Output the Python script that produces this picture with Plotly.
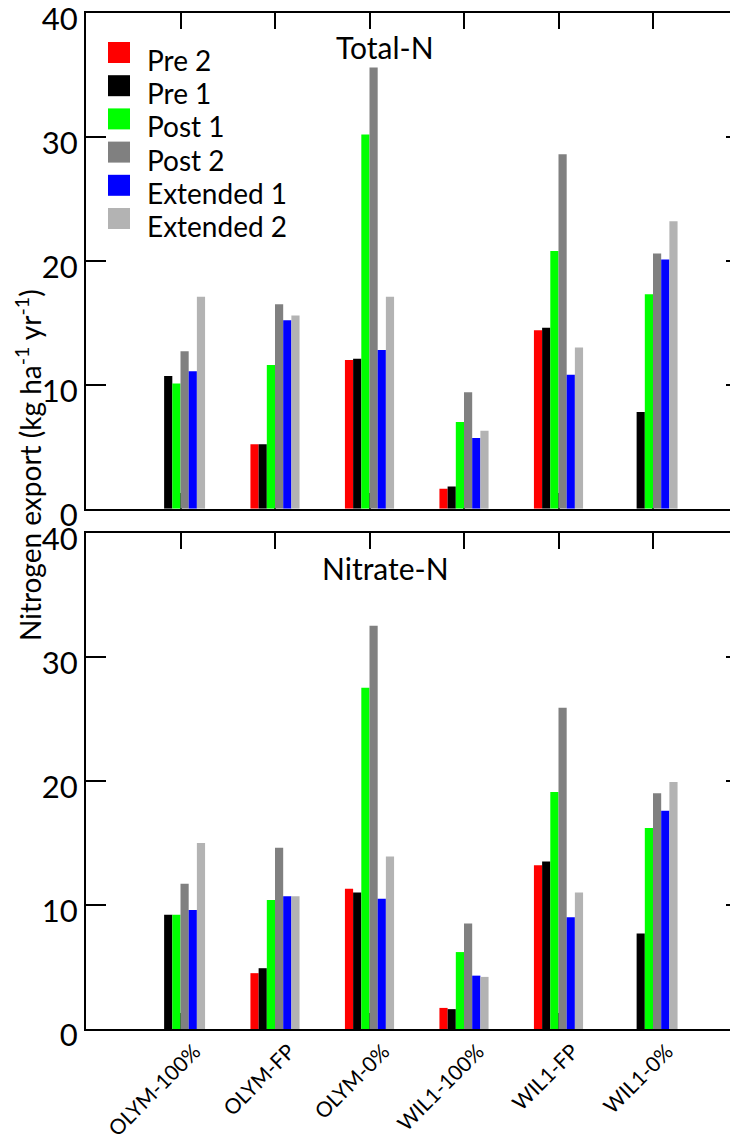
import plotly.graph_objects as go

categories = ["OLYM-100%", "OLYM-FP", "OLYM-0%", "WIL1-100%", "WIL1-FP", "WIL1-0%"]
series_names = ["Pre 2", "Pre 1", "Post 1", "Post 2", "Extended 1", "Extended 2"]
series_colors = ["#FF0000", "#000000", "#00FF00", "#808080", "#0000FF", "#B3B3B3"]

# Total-N (kg ha-1 yr-1)
total_pre2 = [None, 5.2, 12.0, 1.6, 14.4, None]
total_pre1 = [10.7, 5.2, 12.1, 1.8, 14.6, 7.8]
total_post1 = [10.1, 11.6, 30.2, 7.0, 20.8, 17.3]
total_post2 = [12.7, 16.5, 35.6, 9.4, 28.6, 20.6]
total_ext1 = [11.1, 15.2, 12.8, 5.7, 10.8, 20.1]
total_ext2 = [17.1, 15.6, 17.1, 6.3, 13.0, 23.2]

# Nitrate-N (kg ha-1 yr-1)
nitrate_pre2 = [None, 4.5, 11.3, 1.7, 13.2, None]
nitrate_pre1 = [9.2, 4.9, 11.0, 1.6, 13.5, 7.7]
nitrate_post1 = [9.2, 10.4, 27.5, 6.2, 19.1, 16.2]
nitrate_post2 = [11.7, 14.6, 32.5, 8.5, 25.9, 19.0]
nitrate_ext1 = [9.6, 10.7, 10.5, 4.3, 9.0, 17.6]
nitrate_ext2 = [15.0, 10.7, 13.9, 4.2, 11.0, 19.9]

total_series = [total_pre2, total_pre1, total_post1, total_post2, total_ext1, total_ext2]
nitrate_series = [nitrate_pre2, nitrate_pre1, nitrate_post1, nitrate_post2, nitrate_ext1, nitrate_ext2]

y_ticks = [0, 10, 20, 30, 40]
panel_titles = ["Total-N", "Nitrate-N"]
y_title = "Nitrogen export (kg ha<sup>-1</sup> yr<sup>-1</sup>)"

FONT = "Lato, sans-serif"
OFF = 8  # page body margin offset
W, H = 738 - OFF, 1143 - OFF
ML, MT = 86 - OFF, 13 - OFF
PLOT_BOTTOM = 1029 - OFF
MB = H - PLOT_BOTTOM
PW = W - ML
PH = H - MT - MB

def px_x(px):
    # px in page pixels
    return (px - OFF - ML) / PW

def px_y(py):
    return (PLOT_BOTTOM - (py - OFF)) / PH

fig = go.Figure()

for vals, name, col in zip(total_series, series_names, series_colors):
    fig.add_trace(go.Bar(x=categories, y=vals, name=name, marker=dict(color=col, line=dict(width=0)),
                         xaxis="x", yaxis="y", showlegend=False))
for vals, name, col in zip(nitrate_series, series_names, series_colors):
    fig.add_trace(go.Bar(x=categories, y=vals, name=name, marker=dict(color=col, line=dict(width=0)),
                         xaxis="x2", yaxis="y2", showlegend=False))
# helper traces for the right-side tick axes
fig.add_trace(go.Scatter(x=[categories[0]], y=[None], xaxis="x", yaxis="y3", showlegend=False, hoverinfo="skip"))
fig.add_trace(go.Scatter(x=[categories[0]], y=[None], xaxis="x2", yaxis="y4", showlegend=False, hoverinfo="skip"))

top_dom = [px_y(508.7), 1.0]
bot_dom = [0.0, px_y(532.7)]
xrange = [-1, -1 + PW / 94.5]

xcommon = dict(type="category", range=xrange, showline=True, linecolor="black", linewidth=2,
               mirror="ticks", ticks="inside", ticklen=16, tickwidth=2, tickcolor="black",
               layer="below traces", showgrid=False, zeroline=False, automargin=False,
               ticklabeloverflow="allow",
               tickfont=dict(family=FONT, size=21, color="black"))
ycommon = dict(range=[0, 40], tickvals=y_ticks, showline=True, linecolor="black", linewidth=2,
               ticks="inside", ticklen=20, tickwidth=2, tickcolor="black", showgrid=False,
               zeroline=False, layer="above traces", automargin=False,
               ticklabeloverflow="allow", ticklabelshift=6,
               tickfont=dict(family=FONT, size=31, color="black"))
yright = dict(range=[0, 40], tickvals=y_ticks, side="right", showline=False, ticks="inside",
              ticklen=12, tickwidth=2, tickcolor="black", showgrid=False, zeroline=False,
              showticklabels=False, automargin=False)

fig.update_layout(
    template="none",
    width=W, height=H,
    margin=dict(l=ML, r=0, t=MT, b=MB, autoexpand=False),
    paper_bgcolor="white", plot_bgcolor="white",
    barmode="group", bargap=0.48, bargroupgap=0,
    xaxis=dict(**xcommon, domain=[0, 1], anchor="y", showticklabels=False),
    xaxis2=dict(**xcommon, domain=[0, 1], anchor="y2", tickangle=-45,
                ticklabelshift=14, ticklabelstandoff=0),
    yaxis=dict(**ycommon, domain=top_dom, anchor="x"),
    yaxis2=dict(**ycommon, domain=bot_dom, anchor="x2"),
    yaxis3=dict(**yright, overlaying="y", anchor="x"),
    yaxis4=dict(**yright, overlaying="y2", anchor="x2"),
    showlegend=False,
    font=dict(family=FONT, color="black"),
)

annotations = []
# panel titles
annotations.append(dict(text=panel_titles[0], x=px_x(385), y=px_y(47), xref="paper", yref="paper",
                        showarrow=False, font=dict(family=FONT, size=30, color="black"),
                        xanchor="center", yanchor="middle"))
annotations.append(dict(text=panel_titles[1], x=px_x(385), y=px_y(568), xref="paper", yref="paper",
                        showarrow=False, font=dict(family=FONT, size=30, color="black"),
                        xanchor="center", yanchor="middle"))
# y axis title
annotations.append(dict(text=y_title, x=px_x(28), y=px_y(465), xref="paper", yref="paper",
                        showarrow=False, textangle=-90, font=dict(family=FONT, size=28, color="black"),
                        xanchor="center", yanchor="middle"))

# manual legend
shapes = []
for i, (name, col) in enumerate(zip(series_names, series_colors)):
    y0 = 42 + i * 33.2
    shapes.append(dict(type="rect", xref="paper", yref="paper",
                       x0=px_x(108), x1=px_x(130), y0=px_y(y0), y1=px_y(y0 + 21),
                       fillcolor=col, line=dict(width=0)))
    annotations.append(dict(text=name, x=px_x(145), y=px_y(y0 + 18), xref="paper", yref="paper",
                            showarrow=False, font=dict(family=FONT, size=28, color="black"),
                            xanchor="left", yanchor="middle"))

fig.update_layout(annotations=annotations, shapes=shapes)

fig.write_html("out.html")
